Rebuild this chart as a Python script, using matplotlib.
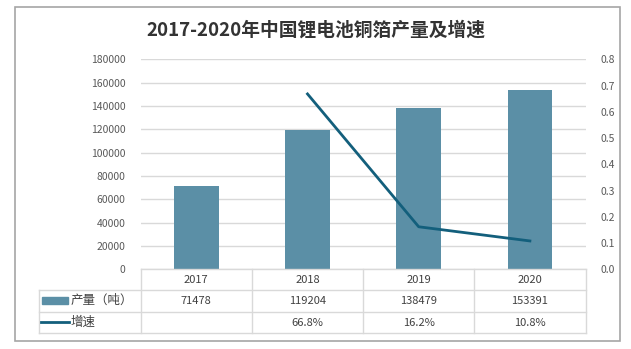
import matplotlib
matplotlib.use("Agg")
import matplotlib.pyplot as plt
import matplotlib.transforms as mtransforms
from matplotlib.lines import Line2D
from matplotlib.patches import Rectangle
import numpy as np

plt.rcParams['font.family'] = ['Noto Sans CJK SC', 'DejaVu Sans']

# data
years = ['2017', '2018', '2019', '2020']
output = [71478, 119204, 138479, 153391]
growth = [None, 0.668, 0.162, 0.108]
growth_labels = ['', '66.8%', '16.2%', '10.8%']
title = '2017-2020年中国锂电池铜箔产量及增速'
bar_name = '产量（吨）'
line_name = '增速'

bar_color = '#5B8FA6'
line_color = '#135F7C'
grid_color = '#D9D9D9'
tick_color = '#595959'
text_color = '#404040'

W, H = 631, 349
fig = plt.figure(figsize=(W / 100, H / 100), dpi=100, facecolor='white')


def fx(x):
    return x / W


def fy(y):
    return 1 - y / H


# outer border
fig.add_artist(Rectangle((fx(15), fy(341)), fx(620) - fx(15), fy(7) - fy(341),
                         transform=fig.transFigure, fill=False,
                         edgecolor='#A6A6A6', linewidth=1.2))

ax = fig.add_axes([fx(140.7), fy(269.3), fx(585.5) - fx(140.7), fy(59.3) - fy(269.3)])
x = np.arange(len(years))
ax.bar(x, output, width=0.4, color=bar_color, zorder=3)
ax.set_xlim(-0.5, len(years) - 0.5)
ax.set_ylim(0, 180000)
ax.set_yticks(np.arange(0, 180001, 20000))
ax.set_yticklabels([str(v) for v in range(0, 180001, 20000)])
ax.grid(axis='y', color=grid_color, linewidth=1, zorder=0)
ax.set_xticks([])
for s in ax.spines.values():
    s.set_visible(False)
ax.tick_params(axis='y', length=0, pad=11, labelsize=7.5, labelcolor=tick_color)

ax2 = ax.twinx()
gx = [i for i, g in enumerate(growth) if g is not None]
gy = [g for g in growth if g is not None]
ax2.plot(gx, gy, color=line_color, linewidth=2, zorder=4)
ax2.set_ylim(0, 0.8)
ax2.set_yticks(np.arange(0, 0.81, 0.1))
ax2.set_yticklabels([f'{v:.1f}' for v in np.arange(0, 0.81, 0.1)])
for s in ax2.spines.values():
    s.set_visible(False)
ax2.tick_params(axis='y', length=0, pad=11, labelsize=7.5, labelcolor=tick_color)

fig.text(fx(316), fy(30), title, ha='center', va='center', fontsize=13.5,
         fontweight='bold', color='#333333')

# data table below the plot
tr = mtransforms.blended_transform_factory(ax.transData, fig.transFigure)
rows = [269.3, 290, 312, 333]
lw = 1
for i, r in enumerate(rows):
    x0 = fx(140.7) if i == 0 else fx(39)
    fig.add_artist(Line2D([x0, fx(585.5)], [fy(r), fy(r)], transform=fig.transFigure,
                          color=grid_color, linewidth=lw))
for k in range(len(years) + 1):
    fig.add_artist(Line2D([k - 0.5, k - 0.5], [fy(rows[0]), fy(rows[-1])], transform=tr,
                          color=grid_color, linewidth=lw))
fig.add_artist(Line2D([fx(39), fx(39)], [fy(rows[1]), fy(rows[-1])], transform=fig.transFigure,
                      color=grid_color, linewidth=lw))

for i, yr in enumerate(years):
    fig.text(i, fy(280), yr, transform=tr, ha='center', va='center', fontsize=8, color=text_color)
    fig.text(i, fy(301), str(output[i]), transform=tr, ha='center', va='center', fontsize=8, color=text_color)
    fig.text(i, fy(323), growth_labels[i], transform=tr, ha='center', va='center', fontsize=8, color=text_color)

fig.add_artist(Rectangle((fx(42), fy(304)), fx(68) - fx(42), fy(297) - fy(304),
                         transform=fig.transFigure, color=bar_color))
fig.add_artist(Line2D([fx(41), fx(69)], [fy(322), fy(322)], transform=fig.transFigure,
                      color=line_color, linewidth=2))
fig.text(fx(71), fy(300.5), bar_name, ha='left', va='center', fontsize=9, color=text_color)
fig.text(fx(71), fy(322), line_name, ha='left', va='center', fontsize=9, color=text_color)

fig.savefig('out.png', dpi=100, facecolor='white')
